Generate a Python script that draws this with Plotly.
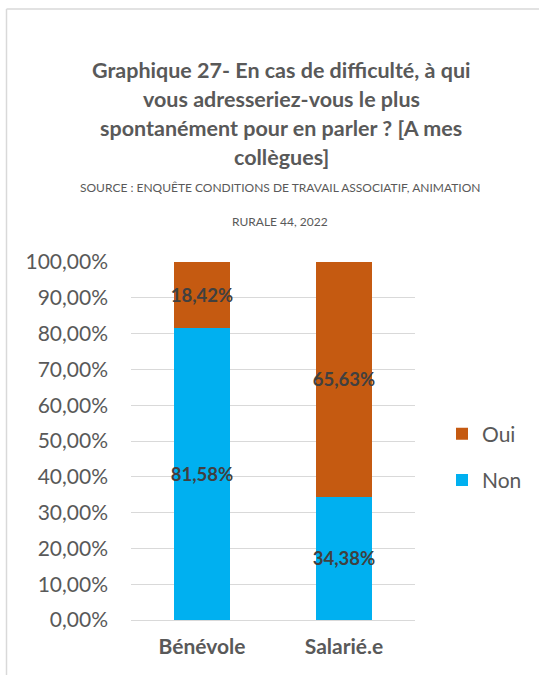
import plotly.graph_objects as go

# données
categories = ["Bénévole", "Salarié.e"]
non_values = [81.58, 34.38]
oui_values = [18.42, 65.63]
tick_values = [0, 10, 20, 30, 40, 50, 60, 70, 80, 90, 100]
tick_labels = ["0,00%", "10,00%", "20,00%", "30,00%", "40,00%", "50,00%",
               "60,00%", "70,00%", "80,00%", "90,00%", "100,00%"]
title_lines = ["Graphique 27- En cas de difficulté, à qui",
               "vous adresseriez-vous le plus",
               "spontanément pour en parler ? [A mes",
               "collègues]"]
source_lines = ["SOURCE : ENQUÊTE CONDITIONS DE TRAVAIL ASSOCIATIF, ANIMATION",
                "RURALE 44, 2022"]

W, H = 539, 675
L, R, T, B = 131, 415, 262, 620  # zone de tracé en pixels
FONT = "Lato"
GREY = "#595959"


def px(x):
    return (x - L) / (R - L)


def py(y):
    return (B - y) / (B - T)


def fmt(v):
    return f"{v:.2f}%".replace(".", ",")


fig = go.Figure()

fig.add_trace(go.Bar(
    x=categories, y=non_values, name="Non", legendgroup="non", legendrank=2,
    marker=dict(color="#00B0F0", line=dict(width=0)),
    text=[fmt(v) for v in non_values],
    textposition="inside", insidetextanchor="middle", textangle=0,
    textfont=dict(family=FONT, size=18.5, color="#404040", weight="bold"),
))
fig.add_trace(go.Bar(
    x=categories, y=oui_values, name="Oui", legendgroup="oui", legendrank=1,
    marker=dict(color="#C55A11", line=dict(width=0)),
    text=[fmt(v) for v in oui_values],
    textposition="inside", insidetextanchor="middle", textangle=0,
    textfont=dict(family=FONT, size=18.5, color="#404040", weight="bold"),
))

# titre, ligne par ligne
title_y = [70, 99, 128, 157]
for line, y in zip(title_lines, title_y):
    fig.add_annotation(text=f"<b>{line}</b>", x=px(281), y=py(y), xref="paper", yref="paper",
                       showarrow=False, xanchor="center", yanchor="middle",
                       font=dict(family=FONT, size=21.5, color=GREY))
source_y = [188, 221]
for line, y in zip(source_lines, source_y):
    fig.add_annotation(text=line, x=px(280), y=py(y), xref="paper", yref="paper",
                       showarrow=False, xanchor="center", yanchor="middle",
                       font=dict(family=FONT, size=12, color=GREY))

# cadre (gauche + haut)
fig.add_shape(type="line", xref="paper", yref="paper", x0=px(6.5), x1=px(560),
              y0=py(9), y1=py(9), line=dict(color="#d9d9d9", width=1.5))
fig.add_shape(type="line", xref="paper", yref="paper", x0=px(6.5), x1=px(6.5),
              y0=py(9), y1=py(700), line=dict(color="#d9d9d9", width=1.5))

fig.update_layout(
    width=W, height=H,
    margin=dict(l=L, r=W - R, t=T, b=H - B, autoexpand=False),
    paper_bgcolor="white", plot_bgcolor="white",
    barmode="stack", bargap=0.6,
    uniformtext=dict(minsize=18, mode="show"),
    font=dict(family=FONT, color=GREY),
    legend=dict(x=px(442), y=py(457), xanchor="left", yanchor="middle",
                traceorder="grouped", font=dict(family=FONT, size=21, color=GREY),
                itemwidth=30, tracegroupgap=16, bgcolor="rgba(0,0,0,0)"),
    xaxis=dict(showline=False, showgrid=False, ticks="",
               tickfont=dict(family=FONT, size=21, color=GREY, weight="bold"),
               ticklabelstandoff=12),
    yaxis=dict(range=[0, 100], tickvals=tick_values, ticktext=tick_labels,
               showgrid=True, gridcolor="#d9d9d9", gridwidth=1,
               zeroline=True, zerolinecolor="#d9d9d9", zerolinewidth=1,
               showline=False, ticks="",
               tickfont=dict(family=FONT, size=21, color=GREY),
               ticklabelstandoff=22),
)

fig.write_html("out.html", config={"displayModeBar": False},
               post_script="document.body.style.margin='0';")
